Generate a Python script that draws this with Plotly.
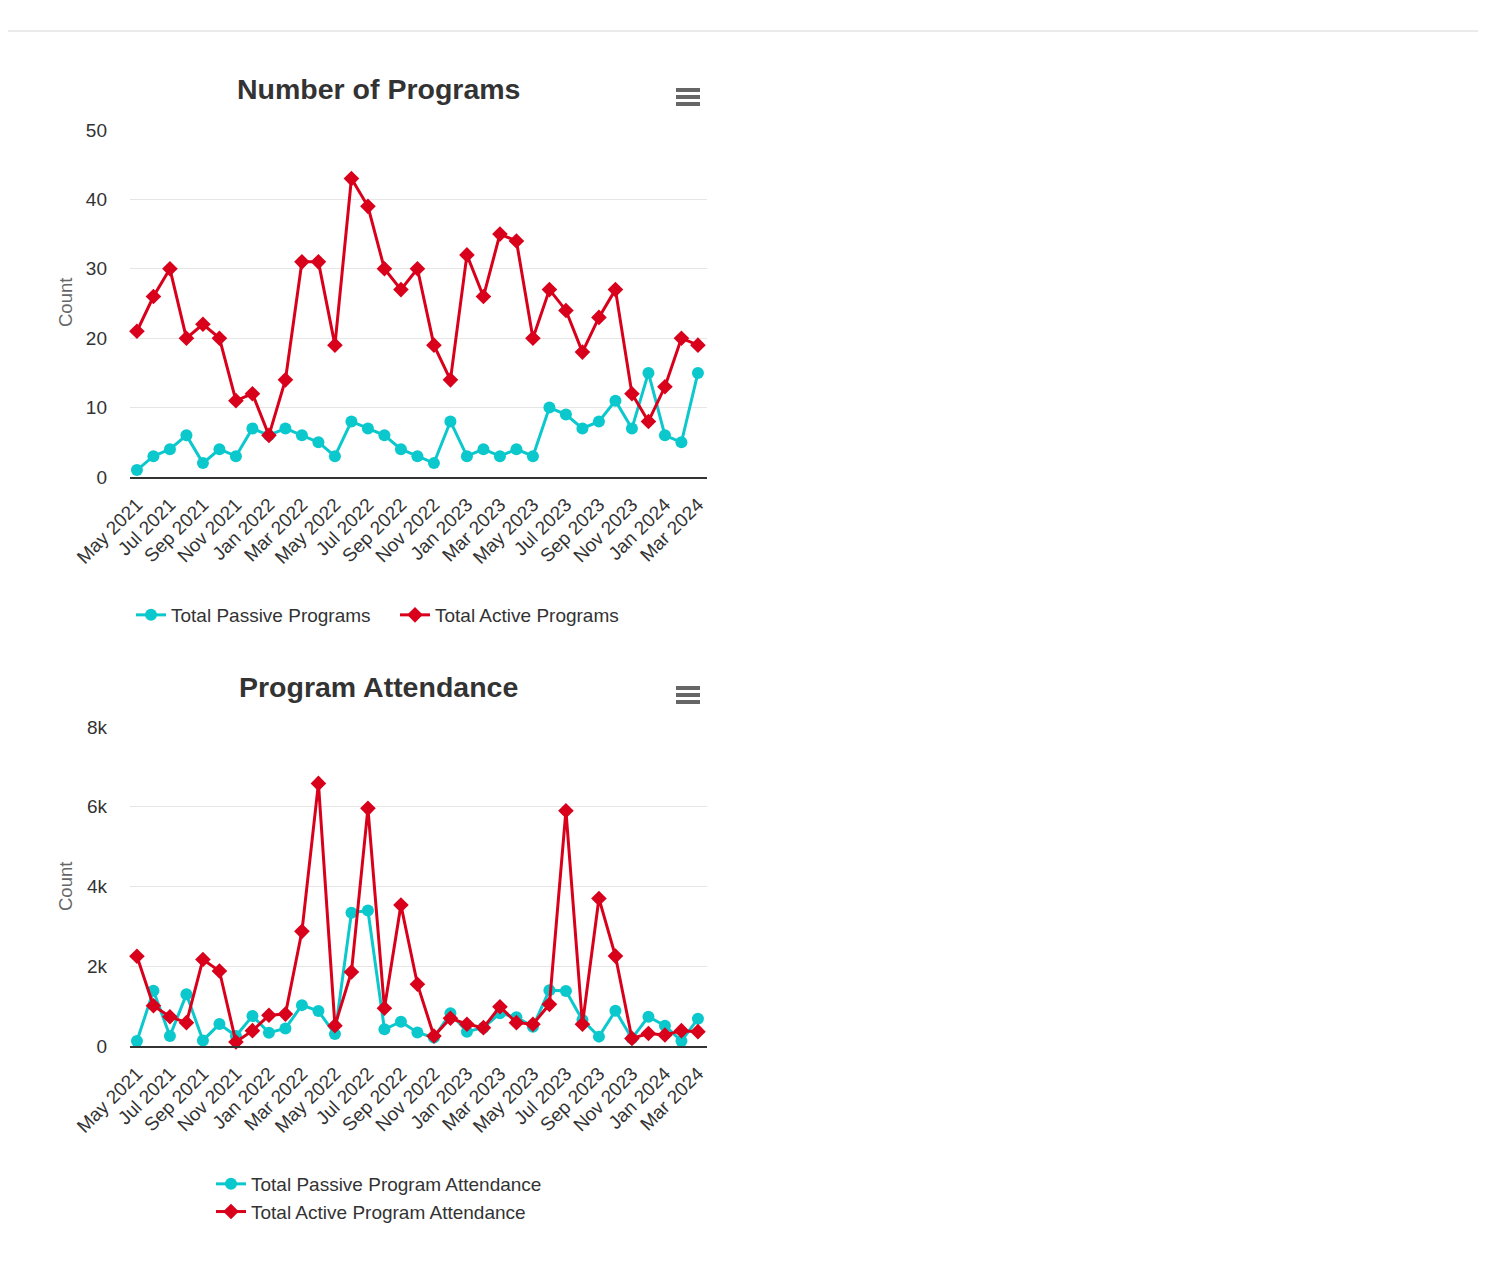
import plotly.graph_objects as go

months = ["May 2021", "Jun 2021", "Jul 2021", "Aug 2021", "Sep 2021", "Oct 2021", "Nov 2021", "Dec 2021",
          "Jan 2022", "Feb 2022", "Mar 2022", "Apr 2022", "May 2022", "Jun 2022", "Jul 2022", "Aug 2022",
          "Sep 2022", "Oct 2022", "Nov 2022", "Dec 2022", "Jan 2023", "Feb 2023", "Mar 2023", "Apr 2023",
          "May 2023", "Jun 2023", "Jul 2023", "Aug 2023", "Sep 2023", "Oct 2023", "Nov 2023", "Dec 2023",
          "Jan 2024", "Feb 2024", "Mar 2024"]
tick_months = months[::2]

passive_programs = [1, 3, 4, 6, 2, 4, 3, 7, 6, 7, 6, 5, 3, 8, 7, 6, 4, 3, 2, 8, 3, 4, 3, 4, 3,
                    10, 9, 7, 8, 11, 7, 15, 6, 5, 15]
active_programs = [21, 26, 30, 20, 22, 20, 11, 12, 6, 14, 31, 31, 19, 43, 39, 30, 27, 30, 19, 14,
                   32, 26, 35, 34, 20, 27, 24, 18, 23, 27, 12, 8, 13, 20, 19]

passive_attendance = [125, 1385, 250, 1295, 140, 550, 250, 750, 335, 440, 1025, 875, 300, 3340, 3400,
                      420, 610, 340, 210, 820, 360, 460, 820, 720, 485, 1400, 1380, 650, 235, 885,
                      190, 735, 510, 125, 685]
active_attendance = [2250, 1010, 735, 585, 2170, 1880, 100, 385, 770, 800, 2875, 6585, 510, 1855, 5960,
                     945, 3535, 1550, 250, 695, 545, 460, 985, 585, 545, 1045, 5900, 545, 3700, 2255,
                     190, 315, 275, 385, 360]

top_ticks = [0, 10, 20, 30, 40, 50]
bottom_ticks = [0, 2000, 4000, 6000, 8000]
bottom_tick_text = ["0", "2k", "4k", "6k", "8k"]

# the page body keeps its default 8px margin, so the figure is 16px smaller than the window
OFF = 8
W, H = 1486 - 2 * OFF, 1283 - 2 * OFF
CYAN = "#0BC8CD"
RED = "#D9001B"
FONT = "Liberation Sans, Arial, sans-serif"


def px(x):
    return (x - OFF) / W


def py(y):
    return 1 - (y - OFF) / H


fig = go.Figure()

fig.add_trace(go.Scatter(x=months, y=passive_programs, name="Total Passive Programs",
                         mode="lines+markers", line=dict(color=CYAN, width=3),
                         marker=dict(symbol="circle", size=12, color=CYAN, line=dict(width=0)),
                         xaxis="x", yaxis="y", legend="legend", cliponaxis=False))
fig.add_trace(go.Scatter(x=months, y=active_programs, name="Total Active Programs",
                         mode="lines+markers", line=dict(color=RED, width=3),
                         marker=dict(symbol="diamond", size=12, color=RED, line=dict(width=0)),
                         xaxis="x", yaxis="y", legend="legend", cliponaxis=False))
fig.add_trace(go.Scatter(x=months, y=passive_attendance, name="Total Passive Program Attendance",
                         mode="lines+markers", line=dict(color=CYAN, width=3),
                         marker=dict(symbol="circle", size=12, color=CYAN, line=dict(width=0)),
                         xaxis="x2", yaxis="y2", legend="legend2", cliponaxis=False))
fig.add_trace(go.Scatter(x=months, y=active_attendance, name="Total Active Program Attendance",
                         mode="lines+markers", line=dict(color=RED, width=3),
                         marker=dict(symbol="diamond", size=12, color=RED, line=dict(width=0)),
                         xaxis="x2", yaxis="y2", legend="legend2", cliponaxis=False))

xcommon = dict(type="category", range=[-0.42, 34.55], tickmode="array", tickvals=tick_months,
               ticktext=tick_months, tickangle=-45, tickfont=dict(size=19, color="#333333", family=FONT),
               showgrid=False, showline=True, linecolor="#333333", linewidth=2, ticks="",
               domain=[px(130), px(707)], fixedrange=True, ticklabelstandoff=7, automargin=False)
ycommon = dict(showgrid=True, gridcolor="#e6e6e6", gridwidth=1, zeroline=False, showline=False,
               tickfont=dict(size=19, color="#333333", family=FONT), ticks="",
               ticklabelstandoff=22, fixedrange=True, automargin=False)

fig.update_layout(
    template="none",
    width=W, height=H,
    margin=dict(l=0, r=0, t=0, b=0, autoexpand=False),
    paper_bgcolor="white", plot_bgcolor="white",
    font=dict(family=FONT, color="#333333"),
    hovermode="closest",
    xaxis=dict(**xcommon, anchor="y"),
    yaxis=dict(**ycommon, range=[0, 50], tickvals=top_ticks, domain=[py(477), py(130)], anchor="x"),
    xaxis2=dict(**xcommon, anchor="y2"),
    yaxis2=dict(**ycommon, range=[0, 8000], tickvals=bottom_ticks, ticktext=bottom_tick_text,
                domain=[py(1046), py(727)], anchor="x2"),
    legend=dict(orientation="h", x=px(395), xanchor="center", y=py(615), yanchor="middle",
                font=dict(size=19, color="#333333", family=FONT), bgcolor="rgba(0,0,0,0)",
                entrywidth=219, itemclick=False, itemdoubleclick=False),
    legend2=dict(orientation="v", x=px(211), xanchor="left", y=py(1165), yanchor="top",
                 font=dict(size=19, color="#333333", family=FONT), bgcolor="rgba(0,0,0,0)",
                 itemclick=False, itemdoubleclick=False, tracegroupgap=0),
    showlegend=True,
)

annotations = [
    dict(text="<b>Number of Programs</b>", x=px(378), y=py(89), xref="paper", yref="paper",
         showarrow=False, font=dict(size=28.5, color="#333333", family=FONT), xanchor="center", yanchor="middle"),
    dict(text="<b>Program Attendance</b>", x=px(378), y=py(687), xref="paper", yref="paper",
         showarrow=False, font=dict(size=28.5, color="#333333", family=FONT), xanchor="center", yanchor="middle"),
    dict(text="Count", x=px(65), y=py(303), xref="paper", yref="paper", textangle=-90,
         showarrow=False, font=dict(size=18.5, color="#666666", family=FONT), xanchor="center", yanchor="middle"),
    dict(text="Count", x=px(65), y=py(887), xref="paper", yref="paper", textangle=-90,
         showarrow=False, font=dict(size=18.5, color="#666666", family=FONT), xanchor="center", yanchor="middle"),
]
fig.update_layout(annotations=annotations)

shapes = []
# hamburger menu icons
for cy in (97, 695):
    for dy in (-7, 0, 7):
        shapes.append(dict(type="line", xref="paper", yref="paper", x0=px(676), x1=px(700),
                           y0=py(cy + dy), y1=py(cy + dy), line=dict(color="#666666", width=4)))
# page card top border
shapes.append(dict(type="line", xref="paper", yref="paper", x0=0, x1=1, y0=py(31), y1=py(31),
                   line=dict(color="#e3e3e3", width=1.5)))
fig.update_layout(shapes=shapes)

fig.write_html("out.html", config={"displayModeBar": False})
